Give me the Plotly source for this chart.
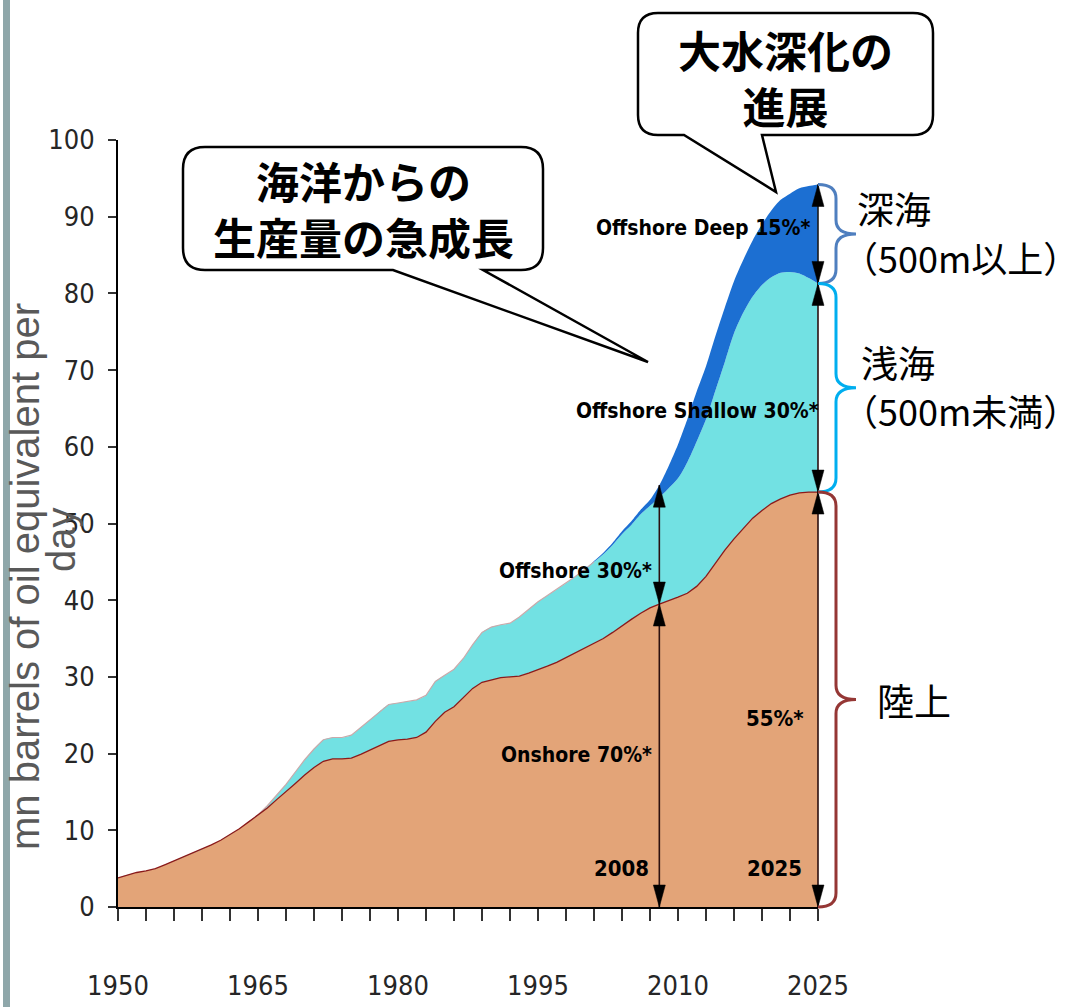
import numpy as np
import plotly.graph_objects as go

# ---------------- data (mn barrels of oil equivalent per day) ----------------
years = list(range(1950, 2026))
onshore = [3.8, 4.2, 4.5, 4.7, 5.0, 5.5, 6.0, 6.5, 7.0, 7.5,
           8.1, 8.7, 9.4, 10.2, 11.1, 12.0, 12.9, 14.0, 15.0, 16.1,
           17.2, 18.2, 19.0, 19.3, 19.3, 19.4, 19.9, 20.5, 21.1, 21.6,
           21.8, 21.9, 22.1, 22.8, 24.2, 25.4, 26.1, 27.3, 28.5, 29.3,
           29.6, 29.9, 30.0, 30.1, 30.5, 30.9, 31.4, 31.9, 32.5, 33.1,
           33.8, 34.3, 35.0, 35.8, 36.7, 37.5, 38.3, 39.0, 39.5, 39.9,
           40.4, 40.9, 41.8, 43.1, 44.8, 46.5, 48.0, 49.4, 50.7, 51.7,
           52.6, 53.2, 53.7, 54.0, 54.1, 54.1]
offshore_shallow = [0, 0, 0, 0, 0, 0, 0, 0, 0, 0,
                    0, 0, 0, 0, 0, 0, 0.3, 0.6, 1.0, 1.5,
                    2.0, 2.4, 2.8, 2.8, 2.8, 3.0, 3.5, 3.9, 4.4, 4.8,
                    4.8, 4.9, 4.9, 4.8, 5.2, 4.8, 4.9, 5.1, 5.7, 6.5,
                    6.9, 6.9, 7.0, 7.7, 8.3, 8.9, 9.2, 9.5, 9.7, 10.0,
                    10.2, 10.7, 11.0, 11.4, 11.9, 12.3, 12.9, 13.3, 13.9, 14.7,
                    15.5, 17.1, 18.9, 20.5, 22.5, 24.5, 26.8, 28.1, 28.9, 29.4,
                    29.5, 29.5, 29.1, 28.6, 27.9, 27.2]
offshore_deep = [0] * 51 + [0.1, 0.2, 0.3, 0.4, 0.5, 0.6, 0.8, 1.6, 2.9,
                            4.4, 5.6, 6.5, 6.9, 7.1, 7.1, 6.8, 6.9, 7.3, 7.9,
                            8.7, 9.5, 10.2, 11.1, 12.0, 12.9]

x_tick_vals = list(range(1950, 2026, 3))
x_label_years = [1950, 1965, 1980, 1995, 2010, 2025]
y_tick_vals = list(range(0, 101, 10))
arrow_years = [2008, 2025]

# ---------------- geometry helpers ----------------
W, H = 1078, 1007
ML, MR, MT, MB = 118, 260, 140, 100
PW, PH = W - ML - MR, H - MT - MB
X0, X1, Y0, Y1 = 1950, 2025, 0, 100


def xp_px(px):
    return (px - ML) / PW


def yp_px(py):
    return (H - MB - py) / PH


def px_x(x):
    return ML + (x - X0) / (X1 - X0) * PW


def py_y(v):
    return MT + (Y1 - v) / (Y1 - Y0) * PH


def pt(px, py):
    return f"{xp_px(px):.5f},{yp_px(py):.5f}"


on = np.array(onshore)
sh_top = on + np.array(offshore_shallow)
total = sh_top + np.array(offshore_deep)

NARROW = "Liberation Sans Narrow, Arial Narrow, DejaVu Sans Condensed, sans-serif"
SANS = "Liberation Sans, Arial, sans-serif"
CJK = "Noto Sans CJK JP, sans-serif"

fig = go.Figure()
fig.add_trace(go.Scatter(x=years, y=onshore, stackgroup="s", mode="lines",
                         line=dict(width=0), fillcolor="#E3A478", hoverinfo="skip"))
fig.add_trace(go.Scatter(x=years, y=offshore_shallow, stackgroup="s", mode="lines",
                         line=dict(width=0, shape="spline", smoothing=0.8),
                         fillcolor="#72E1E3", hoverinfo="skip"))
fig.add_trace(go.Scatter(x=years, y=offshore_deep, stackgroup="s", mode="lines",
                         line=dict(width=0, shape="spline", smoothing=0.8),
                         fillcolor="#1C6FD2", hoverinfo="skip"))
# edges
idx = [i for i, y in enumerate(years) if 1964 <= y <= 2001]
fig.add_trace(go.Scatter(x=[years[i] for i in idx], y=[sh_top[i] for i in idx], mode="lines",
                         line=dict(width=1.2, color="#C9A9AA"), hoverinfo="skip"))
fig.add_trace(go.Scatter(x=years, y=onshore, mode="lines",
                         line=dict(width=1.3, color="#8B1A1A"), hoverinfo="skip"))

shapes = []
annotations = []

# left decorative bar
shapes.append(dict(type="rect", xref="paper", yref="paper", x0=xp_px(3), x1=xp_px(10),
                   y0=yp_px(H), y1=yp_px(0), fillcolor="#8FA7AA", line=dict(width=0), layer="below"))

# vertical double arrows
HW, HL = 6, 22


def arrow(year, v_top, v_bot, color):
    x = px_x(year)
    yt, yb = py_y(v_top), py_y(v_bot)
    shapes.append(dict(type="line", xref="paper", yref="paper", x0=xp_px(x), x1=xp_px(x),
                       y0=yp_px(yt), y1=yp_px(yb), line=dict(color=color, width=1.6)))
    up = f"M{pt(x, yt)} L{pt(x + HW, yt + HL)} L{pt(x - HW, yt + HL)} Z"
    dn = f"M{pt(x, yb)} L{pt(x + HW, yb - HL)} L{pt(x - HW, yb - HL)} Z"
    for p in (up, dn):
        shapes.append(dict(type="path", xref="paper", yref="paper", path=p,
                           fillcolor="#000000", line=dict(color="#000000", width=0.5)))


i08 = years.index(arrow_years[0])
i25 = years.index(arrow_years[1])
arrow(arrow_years[0], total[i08], on[i08], "#2B1010")
arrow(arrow_years[0], on[i08], 0, "#2B1010")
arrow(arrow_years[1], total[i25], sh_top[i25], "#1A1A1A")
arrow(arrow_years[1], sh_top[i25], on[i25], "#2B1010")
arrow(arrow_years[1], on[i25], 0, "#2B1010")


# braces
def brace(v_top, v_bot, color, xe=818, xs=836, xt=856, r=14):
    yt, yb = py_y(v_top), py_y(v_bot)
    mid = (yt + yb) / 2
    p = (f"M{pt(xe, yt)} Q{pt(xs, yt)} {pt(xs, yt + r)} L{pt(xs, mid - r)} "
         f"Q{pt(xs, mid)} {pt(xt, mid)} Q{pt(xs, mid)} {pt(xs, mid + r)} "
         f"L{pt(xs, yb - r)} Q{pt(xs, yb)} {pt(xe, yb)}")
    shapes.append(dict(type="path", xref="paper", yref="paper", path=p,
                       line=dict(color=color, width=3)))
    return mid


m_deep = brace(total[i25], sh_top[i25], "#4F7FBF")
m_sh = brace(sh_top[i25], on[i25], "#00AEEF")
m_on = brace(on[i25], 0, "#953735")


# callouts
def callout(L, T, R, B, tb1, tb2, tip, r=20):
    p = (f"M{pt(L + r, T)} L{pt(R - r, T)} Q{pt(R, T)} {pt(R, T + r)} L{pt(R, B - r)} "
         f"Q{pt(R, B)} {pt(R - r, B)} L{pt(tb2, B)} L{pt(tip[0], tip[1])} L{pt(tb1, B)} "
         f"L{pt(L + r, B)} Q{pt(L, B)} {pt(L, B - r)} L{pt(L, T + r)} Q{pt(L, T)} {pt(L + r, T)} Z")
    shapes.append(dict(type="path", xref="paper", yref="paper", path=p,
                       fillcolor="white", line=dict(color="black", width=2.5)))


callout(183, 147, 543, 270, 393, 483, (648, 362), r=22)
callout(638, 13, 933, 135, 684, 762, (776, 192), r=20)


def txt(s, px, py, size, family, color="black", xanchor="center", angle=0):
    annotations.append(dict(text=s, xref="paper", yref="paper", x=xp_px(px), y=yp_px(py),
                            xanchor=xanchor, yanchor="middle", showarrow=False, textangle=angle,
                            font=dict(size=size, family=family, color=color)))


txt("<b>海洋からの<br>生産量の急成長</b>", 363, 208, 43, CJK)
txt("<b>大水深化の<br>進展</b>", 785, 77, 43, CJK)

txt("深海", 855, 208, 37, CJK, xanchor="left")
txt("（500m以上）", 840, 257, 36, CJK, xanchor="left")
txt("浅海", 859, 362, 37, CJK, xanchor="left")
txt("（500m未満）", 840, 410, 36, CJK, xanchor="left")
txt("陸上", 875, 700, 37, CJK, xanchor="left")

LBL = 21
txt("<b>Offshore Deep 15%*</b>", 703, 228, LBL, NARROW)
txt("<b>Offshore Shallow 30%*</b>", 697, 411, LBL, NARROW)
txt("<b>Offshore 30%*</b>", 654, 571, LBL, NARROW, xanchor="right")
txt("<b>Onshore 70%*</b>", 654, 755, LBL, NARROW, xanchor="right")
txt("<b>2008</b>", 651, 868, LBL + 1, NARROW, xanchor="right")
txt("<b>55%*</b>", 775, 718, LBL + 1, NARROW)
txt("<b>2025</b>", 774, 868, LBL + 1, NARROW)

txt("mn barrels of oil equivalent per", 25, 577, 40, SANS, color="#595959", angle=-90)
txt("day", 61, 540, 40, SANS, color="#595959", angle=-90)

fig.update_layout(
    width=W, height=H, margin=dict(l=ML, r=MR, t=MT, b=MB, pad=0, autoexpand=False),
    paper_bgcolor="white", plot_bgcolor="white", showlegend=False,
    shapes=shapes, annotations=annotations,
    xaxis=dict(range=[X0, X1], showgrid=False, zeroline=False, showline=True, automargin=False,
               linecolor="black", linewidth=2, ticks="outside", ticklen=12, tickwidth=1.5,
               tickcolor="#333333", tickvals=x_tick_vals,
               ticktext=[str(v) if v in x_label_years else "" for v in x_tick_vals],
               tickfont=dict(family=NARROW, size=27, color="#262626"), ticklabelstandoff=42),
    yaxis=dict(range=[Y0, Y1], showgrid=False, zeroline=False, showline=True, automargin=False,
               linecolor="black", linewidth=2, ticks="outside", ticklen=8, tickwidth=1.5,
               tickcolor="#333333", tickvals=y_tick_vals,
               tickfont=dict(family=NARROW, size=27, color="#262626"), ticklabelstandoff=8),
)

fig.write_html("out.html")
